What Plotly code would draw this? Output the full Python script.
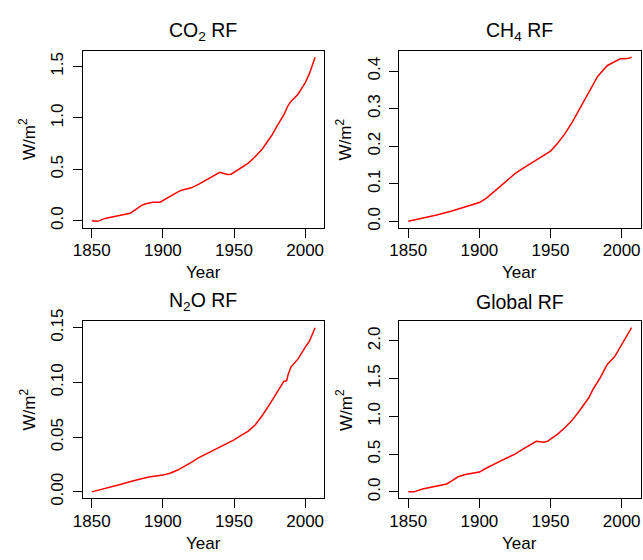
import plotly.graph_objects as go

# ---------------- data ----------------
co2_years = [1850, 1854, 1860, 1865, 1870, 1877, 1880, 1885, 1888, 1893, 1898, 1900,
             1905, 1910, 1913, 1920, 1925, 1930, 1935, 1940, 1943, 1945, 1948, 1950,
             1955, 1960, 1965, 1970, 1975, 1977, 1980, 1985, 1988, 1990, 1995, 2000,
             2003, 2007]
co2_rf = [0.0, -0.006, 0.025, 0.04, 0.05, 0.072, 0.10, 0.15, 0.165, 0.18, 0.18, 0.197,
          0.24, 0.275, 0.297, 0.32, 0.353, 0.39, 0.43, 0.47, 0.46, 0.45, 0.453, 0.47,
          0.51, 0.56, 0.625, 0.70, 0.80, 0.84, 0.915, 1.03, 1.12, 1.16, 1.23, 1.34,
          1.43, 1.59]

ch4_years = [1850, 1860, 1870, 1880, 1890, 1900, 1905, 1910, 1915, 1920, 1925, 1930,
             1935, 1940, 1945, 1950, 1955, 1960, 1965, 1970, 1975, 1980, 1983, 1986,
             1990, 1993, 1996, 1999, 2002, 2005, 2007]
ch4_rf = [0.0, 0.008, 0.017, 0.027, 0.038, 0.05, 0.062, 0.078, 0.095, 0.112, 0.127, 0.14,
          0.152, 0.162, 0.174, 0.187, 0.208, 0.233, 0.262, 0.296, 0.33, 0.362, 0.385,
          0.398, 0.415, 0.421, 0.426, 0.433, 0.433, 0.434, 0.437]

n2o_years = [1850, 1860, 1870, 1880, 1890, 1900, 1905, 1910, 1915, 1920, 1925, 1930,
             1940, 1950, 1955, 1960, 1965, 1970, 1975, 1980, 1983, 1985, 1987, 1988,
             1990, 1993, 1995, 2000, 2003, 2007]
n2o_rf = [0.0, 0.0032, 0.0068, 0.0103, 0.0135, 0.0153, 0.017, 0.0197, 0.023, 0.027,
          0.031, 0.0343, 0.0408, 0.0475, 0.0517, 0.0555, 0.0613, 0.070, 0.080, 0.0907,
          0.0975, 0.101, 0.1015, 0.107, 0.114, 0.1186, 0.1215, 0.132, 0.1377, 0.150]

glob_years = [1850, 1854, 1860, 1870, 1877, 1880, 1885, 1890, 1895, 1898, 1900, 1905,
              1910, 1915, 1920, 1925, 1930, 1935, 1940, 1945, 1948, 1950, 1955, 1960,
              1965, 1970, 1975, 1977, 1980, 1985, 1989, 1990, 1995, 2000, 2003, 2007]
glob_rf = [0.0, 0.0, 0.038, 0.075, 0.105, 0.14, 0.2, 0.23, 0.243, 0.25, 0.262, 0.316,
           0.368, 0.41, 0.455, 0.50, 0.56, 0.615, 0.67, 0.658, 0.67, 0.70, 0.765, 0.85,
           0.944, 1.064, 1.205, 1.25, 1.363, 1.513, 1.66, 1.69, 1.79, 1.95, 2.03, 2.175]

x_ticks = [1850, 1900, 1950, 2000]
co2_ticks = ["0.0", "0.5", "1.0", "1.5"]
ch4_ticks = ["0.0", "0.1", "0.2", "0.3", "0.4"]
n2o_ticks = ["0.00", "0.05", "0.10", "0.15"]
glob_ticks = ["0.0", "0.5", "1.0", "1.5", "2.0"]

titles = ["CO<sub>2</sub> RF", "CH<sub>4</sub> RF", "N<sub>2</sub>O RF", "Global RF"]

# ---------------- layout geometry ----------------
W, H = 643, 560
FONT = "Liberation Sans, Arial, Helvetica, sans-serif"
RED = "#FF0000"

panels = [
    (co2_years, co2_rf, co2_ticks),
    (ch4_years, ch4_rf, ch4_ticks),
    (n2o_years, n2o_rf, n2o_ticks),
    (glob_years, glob_rf, glob_ticks),
]

cell_w, cell_h = W / 2, H / 2
box_l, box_r, box_t, box_b = 74, 319, 40, 223.5   # relative to cell


def rrange(vals):
    lo, hi = min(vals), max(vals)
    pad = 0.04 * (hi - lo)
    return [lo - pad, hi + pad]


fig = go.Figure()
annotations = []
layout = {}
for i, (yrs, vals, yt) in enumerate(panels):
    col, row = i % 2, i // 2
    ox, oy = col * cell_w, row * cell_h
    sfx = "" if i == 0 else str(i + 1)
    xa, ya = "x" + sfx, "y" + sfx
    fig.add_trace(go.Scatter(x=yrs, y=vals, mode="lines",
                             line=dict(color=RED, width=1.5),
                             xaxis=xa, yaxis=ya, showlegend=False, hoverinfo="skip"))
    xd = [(ox + box_l) / W, (ox + box_r) / W]
    yd = [1 - (oy + box_b) / H, 1 - (oy + box_t) / H]
    common = dict(showline=True, mirror=True, linecolor="black", linewidth=1,
                  ticks="outside", ticklen=9, tickwidth=1, tickcolor="black",
                  showgrid=False, zeroline=False,
                  tickfont=dict(family=FONT, size=17, color="black"))
    layout["xaxis" + sfx] = dict(domain=xd, anchor=ya, range=rrange(yrs),
                                 tickmode="array", tickvals=x_ticks,
                                 ticktext=[str(t) for t in x_ticks],
                                 ticklabelstandoff=-2, **common)
    layout["yaxis" + sfx] = dict(domain=yd, anchor=xa, range=rrange(vals),
                                 tickmode="array", tickvals=[float(t) for t in yt],
                                 ticktext=yt, tickangle=-90,
                                 ticklabelstandoff=3, **common)
    cx = ox + (box_l + box_r) / 2
    cy = oy + (box_t + box_b) / 2
    annotations.append(dict(text=titles[i], x=cx / W, y=1 - (oy + 20) / H,
                            xref="paper", yref="paper", showarrow=False,
                            xanchor="center", yanchor="middle",
                            font=dict(family=FONT, size=19.5, color="black")))
    annotations.append(dict(text="Year", x=cx / W, y=1 - (oy + 270) / H,
                            xref="paper", yref="paper", showarrow=False,
                            xanchor="center", yanchor="middle",
                            font=dict(family=FONT, size=17, color="black")))
    annotations.append(dict(text="W/m<sup>2</sup>", x=(ox + 18) / W, y=1 - cy / H,
                            xref="paper", yref="paper", showarrow=False,
                            xanchor="center", yanchor="middle", textangle=-90,
                            font=dict(family=FONT, size=17, color="black")))

fig.update_layout(width=W, height=H, margin=dict(l=0, r=0, t=0, b=0),
                  paper_bgcolor="white", plot_bgcolor="white",
                  annotations=annotations, **layout)

fig.write_html("out.html", config={"displayModeBar": False},
               post_script="document.body.style.margin='0';"
                           "document.documentElement.style.overflow='hidden';"
                           "document.body.style.overflow='hidden';")
